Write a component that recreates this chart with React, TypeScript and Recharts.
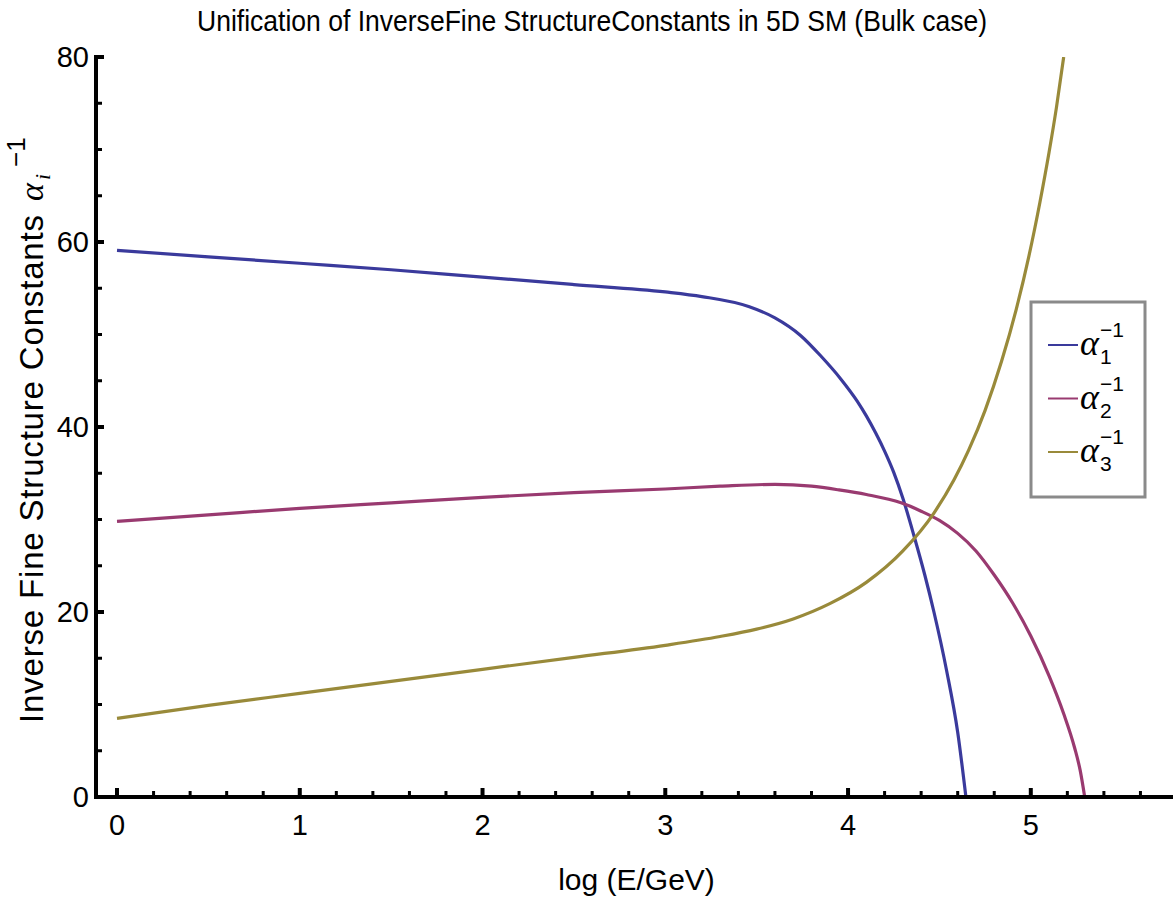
import React from 'react';
import { LineChart, Line, XAxis, YAxis, Label } from 'recharts';

// log(E/GeV) sample points and inverse couplings
const alpha1E = [0, 0.5, 1, 1.5, 2, 2.5, 3, 3.2, 3.46, 3.6, 3.74, 3.85, 3.96, 4.05, 4.1, 4.15, 4.2, 4.25, 4.3, 4.36, 4.42, 4.47, 4.54, 4.6, 4.645];
const alpha1V = [59.1, 58.4, 57.7, 57.0, 56.2, 55.4, 54.6, 54.1, 53.0, 51.8, 49.9, 47.7, 45.2, 42.8, 41.2, 39.4, 37.4, 35.1, 32.3, 28.3, 24.0, 20.0, 13.6, 7.0, 0];

const alpha2E = [0, 0.5, 1, 1.5, 2, 2.5, 3, 3.3, 3.6, 3.8, 3.95, 4.1, 4.29, 4.4, 4.5, 4.6, 4.7, 4.8, 4.9, 5.0, 5.1, 5.18, 5.24, 5.27, 5.295];
const alpha2V = [29.8, 30.5, 31.2, 31.8, 32.4, 32.9, 33.3, 33.6, 33.8, 33.6, 33.2, 32.7, 31.8, 30.9, 29.9, 28.5, 26.6, 24.0, 21.0, 17.4, 13.1, 9.0, 5.3, 2.9, 0];

const alpha3E = [0, 0.5, 1, 1.5, 2, 2.5, 3, 3.3, 3.5, 3.7, 3.9, 4.1, 4.3, 4.47, 4.58, 4.66, 4.75, 4.84, 4.92, 4.99, 5.05, 5.1, 5.14, 5.18];
const alpha3V = [8.5, 9.9, 11.2, 12.5, 13.8, 15.1, 16.4, 17.35, 18.15, 19.25, 20.9, 23.2, 26.6, 30.7, 34.3, 37.5, 41.8, 47.1, 52.7, 58.5, 64.3, 69.7, 74.5, 80];

const xMajorTicks = [0, 1, 2, 3, 4, 5];
const xTicks = [0, 0.2, 0.4, 0.6, 0.8, 1, 1.2, 1.4, 1.6, 1.8, 2, 2.2, 2.4, 2.6, 2.8, 3, 3.2, 3.4, 3.6, 3.8, 4, 4.2, 4.4, 4.6, 4.8, 5, 5.2, 5.4, 5.6];
const yMajorTicks = [0, 20, 40, 60, 80];
const yTicks = [0, 5, 10, 15, 20, 25, 30, 35, 40, 45, 50, 55, 60, 65, 70, 75, 80];

const seriesNames = ['1', '2', '3'];
const colors = ['#3a3a9c', '#993a70', '#998a3a'];

const toPoints = (xs: number[], ys: number[]) => xs.map((x, i) => ({ x, y: ys[i] }));
const series = [toPoints(alpha1E, alpha1V), toPoints(alpha2E, alpha2V), toPoints(alpha3E, alpha3V)];

const FONT = "'Liberation Sans', Arial, sans-serif";
const SERIF = "'Liberation Serif', 'Times New Roman', serif";

const BottomTick = (props: any) => {
  const { x, y, payload } = props;
  const major = xMajorTicks.includes(payload.value);
  return (
    <g>
      <line x1={x} x2={x} y1={y} y2={y - (major ? 9 : 6)} stroke="#000" strokeWidth={major ? 4 : 3} />
      {major && (
        <text x={x} y={y + 38} textAnchor="middle" fontSize={29} fontFamily={FONT} fill="#000">
          {payload.value}
        </text>
      )}
    </g>
  );
};

const TopTick = (props: any) => {
  const { x, y, payload } = props;
  const major = xMajorTicks.includes(payload.value);
  return <line x1={x} x2={x} y1={y} y2={y + (major ? 9 : 6)} stroke="#000" strokeWidth={major ? 4 : 3} />;
};

const LeftTick = (props: any) => {
  const { x, y, payload } = props;
  const major = yMajorTicks.includes(payload.value);
  return (
    <g>
      <line x1={x} x2={x + (major ? 8 : 6)} y1={y} y2={y} stroke="#000" strokeWidth={major ? 4 : 3} />
      {major && (
        <text x={x - 7} y={y + 10} textAnchor="end" fontSize={29} fontFamily={FONT} fill="#000">
          {payload.value}
        </text>
      )}
    </g>
  );
};

const RightTick = (props: any) => {
  const { x, y, payload } = props;
  const major = yMajorTicks.includes(payload.value);
  return <line x1={x} x2={x - (major ? 8 : 6)} y1={y} y2={y} stroke="#000" strokeWidth={major ? 4 : 3} />;
};

const YTitle = (props: any) => {
  const vb = props.viewBox || { x: 0, y: 57, width: 96, height: 740 };
  const start = vb.y + vb.height / 2 + 296;
  return (
    <g transform={`translate(43, ${start}) rotate(-90)`}>
      <text x={0} y={0} fontSize={33} fontFamily={FONT} fill="#000" textLength={508} lengthAdjust="spacing">
        Inverse Fine Structure Constants
      </text>
      <text x={522} y={0} fontSize={34} fontFamily={SERIF} fontStyle="italic" fill="#000">α</text>
      <text x={543} y={7} fontSize={22} fontFamily={SERIF} fontStyle="italic" fill="#000">i</text>
      <text x={556} y={-18} fontSize={26} fontFamily={FONT} fill="#000">−1</text>
    </g>
  );
};

export default function App() {
  return (
    <div style={{ position: 'fixed', left: 0, top: 0, width: 1173, height: 903, overflow: 'hidden', background: '#fff' }}>
      <LineChart width={1200} height={903} margin={{ top: 57, right: 23, bottom: 0, left: 0 }}>
        <XAxis
          xAxisId="main"
          dataKey="x"
          type="number"
          domain={[-0.115, 5.8]}
          allowDataOverflow
          ticks={xTicks}
          interval={0}
          height={106}
          tickSize={0}
          tickMargin={0}
          tickLine={false}
          tick={<BottomTick />}
          axisLine={{ stroke: '#000', strokeWidth: 4, strokeLinecap: 'square' }}
        >
          <Label value="log (E/GeV)" position="insideBottom" offset={13} fontSize={30} fontFamily={FONT} fill="#000" />
        </XAxis>
        <XAxis
          xAxisId="top"
          orientation="top"
          dataKey="x"
          type="number"
          domain={[-0.115, 5.8]}
          allowDataOverflow
          ticks={xTicks}
          interval={0}
          height={0}
          tickSize={0}
          tickMargin={0}
          tickLine={false}
          tick={<TopTick />}
          axisLine={{ stroke: '#000', strokeWidth: 4, strokeLinecap: 'square' }}
        />
        <YAxis
          yAxisId="main"
          type="number"
          domain={[0, 80]}
          allowDataOverflow
          ticks={yTicks}
          interval={0}
          width={96}
          tickSize={0}
          tickMargin={0}
          tickLine={false}
          tick={<LeftTick />}
          axisLine={{ stroke: '#000', strokeWidth: 4, strokeLinecap: 'square' }}
          label={<YTitle />}
        />
        <YAxis
          yAxisId="right"
          orientation="right"
          type="number"
          domain={[0, 80]}
          allowDataOverflow
          ticks={yTicks}
          interval={0}
          width={0}
          tickSize={0}
          tickMargin={0}
          tickLine={false}
          tick={<RightTick />}
          axisLine={{ stroke: '#000', strokeWidth: 4, strokeLinecap: 'square' }}
        />
        {series.map((pts, i) => (
          <Line
            key={seriesNames[i]}
            xAxisId="main"
            yAxisId="main"
            data={pts}
            dataKey="y"
            type="monotone"
            stroke={colors[i]}
            strokeWidth={3.2}
            dot={false}
            isAnimationActive={false}
          />
        ))}
      </LineChart>
      <svg width={1173} height={903} style={{ position: 'absolute', left: 0, top: 0, pointerEvents: 'none' }}>
        <text
          x={592}
          y={31}
          textAnchor="middle"
          fontSize={30}
          fontFamily="'Liberation Sans Narrow', 'Liberation Sans', Arial, sans-serif"
          textLength={790}
          lengthAdjust="spacingAndGlyphs"
          fill="#000"
        >
          Unification of InverseFine StructureConstants in 5D SM (Bulk case)
        </text>
        <rect x={1031} y={302} width={114} height={195} fill="#fff" stroke="#8a8a8a" strokeWidth={3} />
        {seriesNames.map((n, i) => {
          const cy = 345 + i * 53.5;
          return (
            <g key={n}>
              <line x1={1048} x2={1078} y1={cy} y2={cy} stroke={colors[i]} strokeWidth={2} />
              <text x={1080} y={cy + 10} fontSize={36} fontFamily={SERIF} fontStyle="italic" fill="#000">α</text>
              <text x={1100} y={cy + 19} fontSize={21} fontFamily={FONT} fill="#000">{n}</text>
              <text x={1100} y={cy - 8} fontSize={21} fontFamily={FONT} fill="#000">−1</text>
            </g>
          );
        })}
      </svg>
    </div>
  );
}
